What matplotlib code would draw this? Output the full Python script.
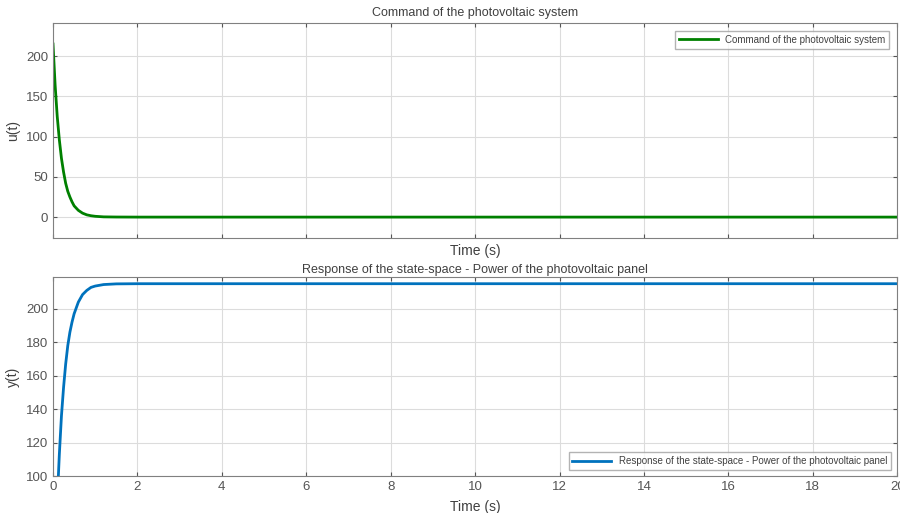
import matplotlib.pyplot as plt

# Données
t = [0, 0.05, 0.1, 0.15, 0.2, 0.25, 0.3, 0.35, 0.4, 0.45, 0.5, 0.6, 0.7, 0.8,
     0.9, 1.0, 1.2, 1.5, 2, 4, 6, 8, 10, 12, 14, 16, 18, 20]
u = [215, 164, 125, 96, 73, 56, 42, 32, 25, 19, 14, 8.4, 4.9, 2.8,
     1.7, 1.0, 0.3, 0.1, 0, 0, 0, 0, 0, 0, 0, 0, 0, 0]
y = [0, 47, 85, 113, 136, 153, 167, 178, 186, 192, 197, 204, 208.5, 211,
     212.8, 213.6, 214.5, 214.9, 215, 215, 215, 215, 215, 215, 215, 215, 215, 215]

x_ticks = list(range(0, 21, 2))

plt.rcParams['font.family'] = ['Liberation Sans', 'DejaVu Sans']
gray = '#404040'
tick_gray = '#555555'

fig = plt.figure(figsize=(9, 5.13), dpi=100)
ax1 = fig.add_axes([0.0589, 0.536, 0.938, 0.419])
ax2 = fig.add_axes([0.0589, 0.072, 0.938, 0.388])


def style(ax):
    ax.grid(True, color='#dcdcdc', linewidth=0.8)
    ax.set_axisbelow(True)
    ax.tick_params(direction='in', labelsize=9.5, colors=tick_gray, length=3,
                   top=True, right=True)
    for s in ax.spines.values():
        s.set_color('#808080')
        s.set_linewidth(0.8)
    ax.set_xlim(0, 20)
    ax.set_xticks(x_ticks)


# Commande
ax1.plot(t, u, color='#008000', linewidth=2, label='Command of the photovoltaic system')
style(ax1)
ax1.set_ylim(-26, 241)
ax1.set_yticks([0, 50, 100, 150, 200])
ax1.set_xticklabels([])
ax1.set_ylabel('u(t)', fontsize=10, color=gray)
ax1.set_xlabel('Time (s)', fontsize=10, color=gray, labelpad=1)
ax1.set_title('Command of the photovoltaic system', fontsize=9, color=gray, pad=5)
ax1.legend(loc='upper right', fontsize=7, frameon=True, fancybox=False,
           edgecolor='#a0a0a0', handlelength=4, borderaxespad=0.8,
           labelcolor=gray)

# Réponse
ax2.plot(t, y, color='#0072BD', linewidth=2,
         label='Response of the state-space - Power of the photovoltaic panel')
style(ax2)
ax2.set_ylim(100, 219)
ax2.set_yticks([100, 120, 140, 160, 180, 200])
ax2.set_ylabel('y(t)', fontsize=10, color=gray)
ax2.set_xlabel('Time (s)', fontsize=10, color=gray, labelpad=5)
ax2.set_title('Response of the state-space - Power of the photovoltaic panel',
              fontsize=9, color=gray, pad=3)
ax2.legend(loc='lower right', fontsize=7, frameon=True, fancybox=False,
           edgecolor='#a0a0a0', handlelength=4, borderaxespad=0.6,
           labelcolor=gray)

fig.savefig('out.png', dpi=100)
